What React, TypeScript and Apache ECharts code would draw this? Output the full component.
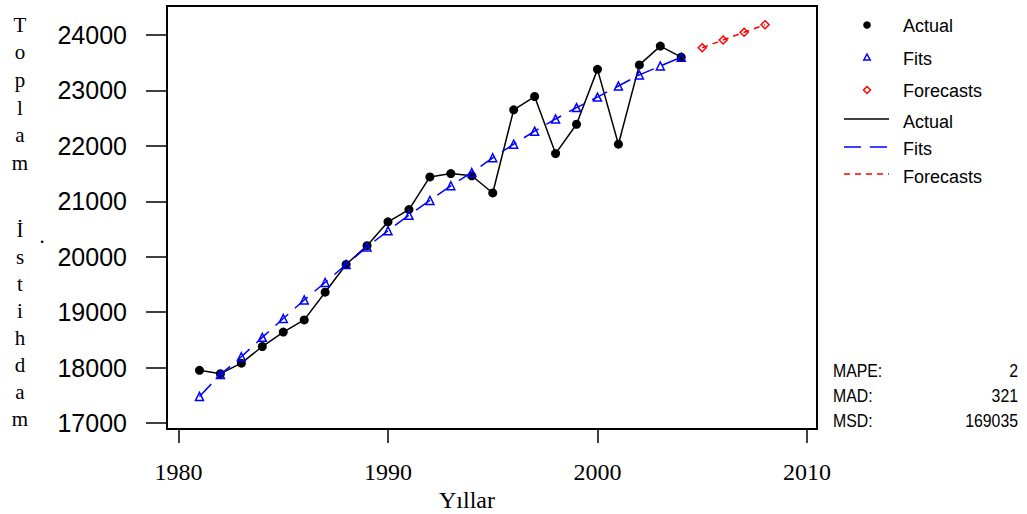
import React, { useEffect, useRef } from "react";
import * as echarts from "echarts";

const years = [1981, 1982, 1983, 1984, 1985, 1986, 1987, 1988, 1989, 1990, 1991, 1992, 1993, 1994, 1995, 1996, 1997, 1998, 1999, 2000, 2001, 2002, 2003, 2004];
const actual = [17950, 17890, 18080, 18380, 18640, 18860, 19360, 19860, 20200, 20630, 20850, 21440, 21500, 21460, 21150, 22650, 22890, 21860, 22390, 23380, 22030, 23460, 23800, 23600];
const fits = [17480, 17875, 18195, 18545, 18885, 19220, 19535, 19860, 20175, 20470, 20750, 21015, 21280, 21520, 21785, 22030, 22265, 22485, 22690, 22880, 23080, 23280, 23440, 23600];
const forecastYears = [2005, 2006, 2007, 2008];
const forecasts = [23770, 23910, 24050, 24185];
const xTicks = [1980, 1990, 2000, 2010];
const yTicks = [17000, 18000, 19000, 20000, 21000, 22000, 23000, 24000];
const stats = [
  { label: "MAPE:", value: "2" },
  { label: "MAD:", value: "321" },
  { label: "MSD:", value: "169035" },
];
const yTitleTop = ["T", "o", "p", "l", "a", "m"];
const yTitleBottom = ["İ", "s", "t", "i", "h", "d", "a", "m"];

const SANS = "'Liberation Sans', Arial, Helvetica, sans-serif";
const SERIF = "'Liberation Serif', 'Times New Roman', serif";

export default function App() {
  const ref = useRef<HTMLDivElement>(null);
  useEffect(() => {
    document.body.style.margin = "0";
    if (!ref.current) return;
    const chart = echarts.init(ref.current, null, { renderer: "svg" });

    const zip = (xs: number[], ys: number[]) => xs.map((x, i) => [x, ys[i]]);

    const legendTextStyle = { fill: "#000", fontSize: 18, fontFamily: SANS, textVerticalAlign: "middle" as const };
    const graphics: any[] = [
      // legend symbols
      { type: "circle", shape: { cx: 867, cy: 25, r: 3.8 }, style: { fill: "#000" } },
      { type: "polygon", shape: { points: [[867, 54], [863.8, 60], [870.2, 60]] }, style: { fill: "none", stroke: "#0000ff", lineWidth: 1.5 } },
      { type: "polygon", shape: { points: [[867, 86.5], [870.5, 90], [867, 93.5], [863.5, 90]] }, style: { fill: "none", stroke: "#ff0000", lineWidth: 1.5 } },
      { type: "line", shape: { x1: 844, y1: 119, x2: 889, y2: 119 }, style: { stroke: "#000", lineWidth: 1.5 } },
      { type: "line", shape: { x1: 844, y1: 147, x2: 889, y2: 147 }, style: { stroke: "#0000ff", lineWidth: 1.5, lineDash: [17, 9] } },
      { type: "line", shape: { x1: 844, y1: 174, x2: 889, y2: 174 }, style: { stroke: "#ff0000", lineWidth: 1.5, lineDash: [6, 5] } },
      { type: "text", x: 903, y: 26, style: { ...legendTextStyle, text: "Actual" } },
      { type: "text", x: 903, y: 59, style: { ...legendTextStyle, text: "Fits" } },
      { type: "text", x: 903, y: 91, style: { ...legendTextStyle, text: "Forecasts" } },
      { type: "text", x: 903, y: 122, style: { ...legendTextStyle, text: "Actual" } },
      { type: "text", x: 903, y: 149, style: { ...legendTextStyle, text: "Fits" } },
      { type: "text", x: 903, y: 177, style: { ...legendTextStyle, text: "Forecasts" } },
      // y axis title
      {
        type: "text", x: 20, y: 11,
        style: { text: yTitleTop.join("\n"), fill: "#000", fontSize: 21, fontFamily: SERIF, lineHeight: 27.6, textAlign: "center" },
      },
      {
        type: "text", x: 20, y: 216,
        style: { text: yTitleBottom.join("\n"), fill: "#000", fontSize: 21, fontFamily: SERIF, lineHeight: 27, textAlign: "center" },
      },
      { type: "text", x: 42, y: 236, style: { text: ".", fill: "#000", fontSize: 21, fontFamily: SERIF, textAlign: "center", textVerticalAlign: "middle" } },
      // x axis title
      { type: "text", x: 467, y: 500, style: { text: "Yıllar", fill: "#000", fontSize: 24, fontFamily: SERIF, textAlign: "center", textVerticalAlign: "middle" } },
    ];
    stats.forEach((s, i) => {
      const y = 371 + i * 25;
      graphics.push({ type: "text", x: 833, y, scaleX: 0.88, style: { text: s.label, fill: "#000", fontSize: 18, fontFamily: SANS, textVerticalAlign: "middle" } });
      graphics.push({ type: "text", x: 1018, y, scaleX: 0.88, style: { text: s.value, fill: "#000", fontSize: 18, fontFamily: SANS, textAlign: "right", textVerticalAlign: "middle" } });
    });

    chart.setOption({
      animation: false,
      backgroundColor: "#fff",
      grid: { left: 167, top: 6, right: 210, bottom: 85, show: true, borderColor: "#000", borderWidth: 2, backgroundColor: "transparent" },
      xAxis: {
        type: "value",
        min: 1979.45,
        max: 2010.48,
        axisLine: { show: false },
        splitLine: { show: false },
        axisTick: { show: true, length: 14, customValues: xTicks, lineStyle: { color: "#000", width: 1.5 } },
        axisLabel: { customValues: xTicks, margin: 31, color: "#000", fontSize: 24, fontFamily: SERIF, formatter: (v: number) => String(v) },
      },
      yAxis: {
        type: "value",
        min: 16892,
        max: 24523,
        axisLine: { show: false },
        splitLine: { show: false },
        axisTick: { show: true, length: 21, customValues: yTicks, lineStyle: { color: "#000", width: 1.5 } },
        axisLabel: { customValues: yTicks, margin: 40, color: "#000", fontSize: 25, fontFamily: SANS, formatter: (v: number) => String(v) },
      },
      series: [
        {
          name: "Actual",
          type: "line",
          data: zip(years, actual),
          symbol: "circle",
          symbolSize: 9,
          itemStyle: { color: "#000" },
          lineStyle: { color: "#000", width: 1.5 },
          z: 2,
        },
        {
          name: "Fits",
          type: "line",
          data: zip(years, fits),
          symbol: "triangle",
          symbolSize: 8,
          itemStyle: { color: "transparent", borderColor: "#0000ff", borderWidth: 1.5 },
          lineStyle: { color: "#0000ff", width: 1.5, type: [17, 9] },
          z: 3,
        },
        {
          name: "Forecasts",
          type: "line",
          data: zip(forecastYears, forecasts),
          symbol: "diamond",
          symbolSize: 8,
          itemStyle: { color: "transparent", borderColor: "#ff0000", borderWidth: 1.5 },
          lineStyle: { color: "#ff0000", width: 1.5, type: [6, 5] },
          z: 3,
        },
      ],
      graphic: graphics,
    });
    return () => chart.dispose();
  }, []);
  return <div ref={ref} style={{ width: 1027, height: 514 }} />;
}
